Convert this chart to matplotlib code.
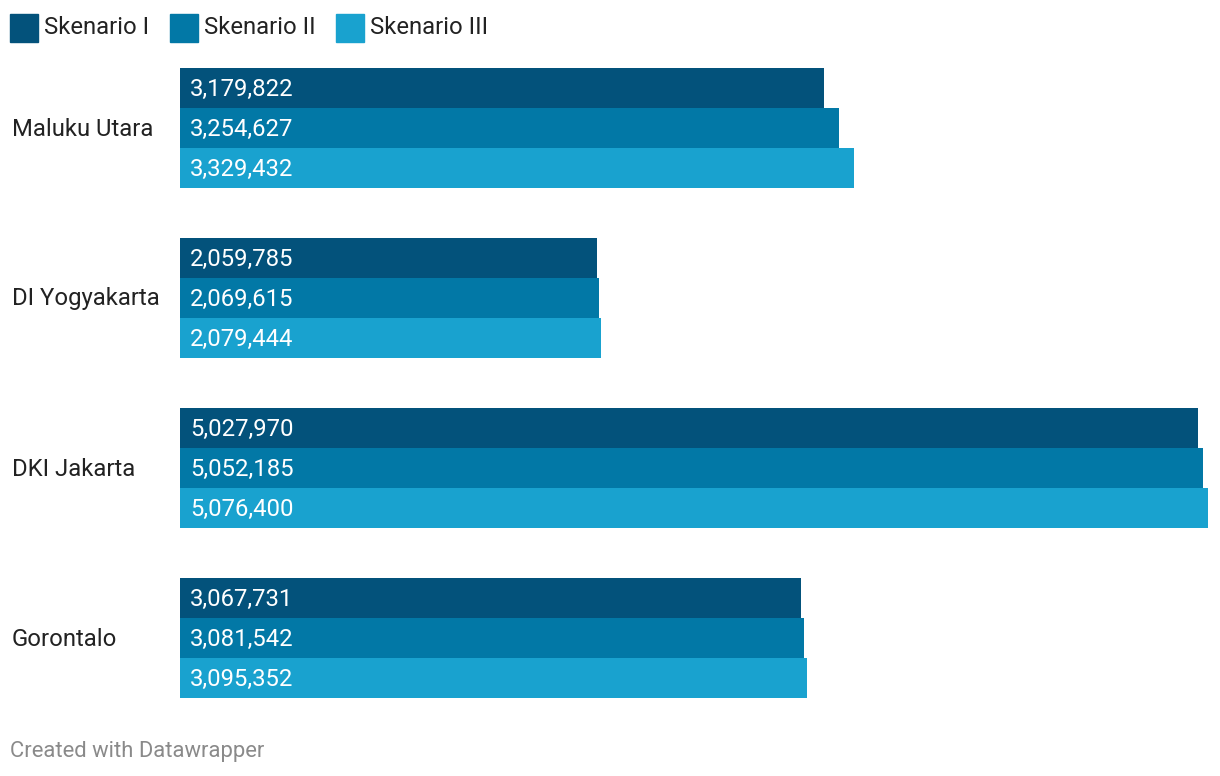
import matplotlib
matplotlib.use("Agg")
import matplotlib.pyplot as plt
from matplotlib.patches import Rectangle

plt.rcParams['font.family'] = ['Roboto', 'DejaVu Sans']

categories = ["Maluku Utara", "DI Yogyakarta", "DKI Jakarta", "Gorontalo"]
series_names = ["Skenario I", "Skenario II", "Skenario III"]
skenario_1 = [3179822, 2059785, 5027970, 3067731]
skenario_2 = [3254627, 2069615, 5052185, 3081542]
skenario_3 = [3329432, 2079444, 5076400, 3095352]
series = [skenario_1, skenario_2, skenario_3]
colors = ["#03527b", "#0278a6", "#19a2cf"]

W, H = 1220, 776
FS = 17.2
fig = plt.figure(figsize=(W / 100, H / 100), dpi=100)

# axes: bars area from x=180..1208, y=68..698 px
ax = fig.add_axes([180 / W, 1 - 698 / H, (1208 - 180) / W, (698 - 68) / H])
bh = 40 / 170
ax.set_xlim(0, max(skenario_3))
ax.set_ylim(len(categories) - 1 + 1.5 * bh, -1.5 * bh)
ax.axis('off')

for si, (vals, col) in enumerate(zip(series, colors)):
    for ci, v in enumerate(vals):
        yc = ci + (si - 1) * bh
        ax.barh(yc, v, height=bh, color=col, edgecolor='none')
        ax.annotate(f"{v:,}", xy=(0, yc), xycoords='data',
                    xytext=(10, -1), textcoords='offset pixels',
                    color='white', fontsize=FS, va='center', ha='left')

for ci, cat in enumerate(categories):
    ax.annotate(cat, xy=(0, ci), xycoords=('figure fraction', 'data'),
                xytext=(12, -1), textcoords='offset pixels',
                fontsize=FS, va='center', ha='left', color='#222222')

# legend (square left edges in px)
legend_x = [10, 170, 336]
for x, name, col in zip(legend_x, series_names, colors):
    fig.patches.append(Rectangle((x / W, 1 - 42 / H), 28 / W, 28 / H,
                                 transform=fig.transFigure, color=col))
    fig.text((x + 34) / W, 1 - 27 / H, name, fontsize=FS,
             va='center', ha='left', color='#222222')

fig.text(10 / W, 1 - 751 / H, "Created with Datawrapper", fontsize=15.8,
         color='#8a8a8a', va='center', ha='left')

fig.savefig("out.png", dpi=100, facecolor='white')
